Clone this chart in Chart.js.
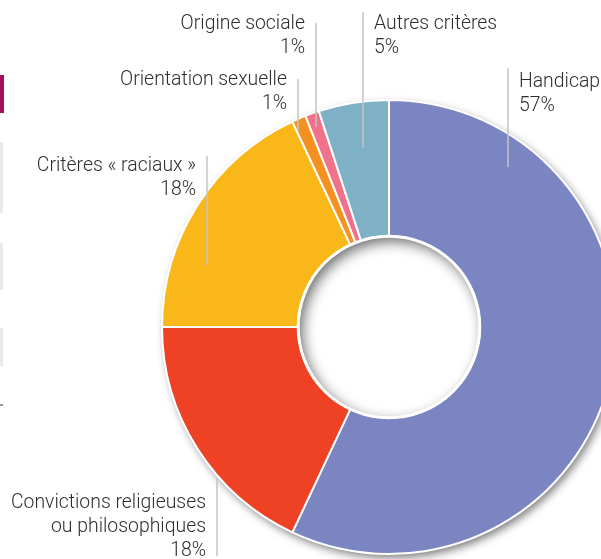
<!DOCTYPE html>
<html lang="fr">
<head>
<meta charset="UTF-8">
<title>Critères de discrimination</title>
<script src="https://cdn.jsdelivr.net/npm/chart.js"></script>
<style>
    html, body { margin: 0; padding: 0; background: #fff; overflow: hidden; }
    body { width: 601px; height: 559px; position: relative; }
    #donut { position: absolute; left: 0; top: 0; }
    .bord { position: absolute; left: 0; width: 3px; background: #ebebeb; }
</style>
</head>
<body>
<div class="bord" style="top:75px;height:38px;background:#a3105c;width:4px"></div>
<div class="bord" style="top:142px;height:71px"></div>
<div class="bord" style="top:243px;height:47px"></div>
<div class="bord" style="top:328px;height:38px"></div>
<div class="bord" style="top:404px;height:2px;background:#999"></div>
<canvas id="donut" width="800" height="559"></canvas>

<script>
    const criteres = [
        ['Handicap'],
        ['Convictions religieuses', 'ou philosophiques'],
        ['Critères « raciaux »'],
        ['Orientation sexuelle'],
        ['Origine sociale'],
        ['Autres critères']
    ];
    const parts = [57, 18, 18, 1, 1, 5];
    const couleurs = ['#7a85c1', '#ef4123', '#fab71a', '#f39221', '#f0718a', '#7fb1c6'];

    // emplacement des étiquettes : trait vertical (x, haut, bas) + côté du texte
    const etiquettes = [
        { x: 508, haut: 68, bas: 167, cote: 'left', ligne1: 87 },
        { x: 217, haut: 478, bas: 556, cote: 'right', ligne1: 508 },
        { x: 207, haut: 156, bas: 265, cote: 'right', ligne1: 171 },
        { x: 298, haut: 79, bas: 131, cote: 'right', ligne1: 85 },
        { x: 316, haut: 23, bas: 127, cote: 'right', ligne1: 29 },
        { x: 363, haut: 12, bas: 148, cote: 'left', ligne1: 29 }
    ];

    const ombres = {
        id: 'ombres',
        beforeDatasetsDraw(chart) {
            const arc = chart.getDatasetMeta(0).data[0];
            const ctx = chart.ctx;
            ctx.save();
            ctx.shadowColor = 'rgba(0,0,0,0.5)';
            ctx.shadowBlur = 9;
            ctx.shadowOffsetX = 3;
            ctx.shadowOffsetY = 4;
            ctx.fillStyle = '#fff';
            ctx.beginPath();
            ctx.arc(arc.x, arc.y, arc.outerRadius, 0, Math.PI * 2);
            ctx.fill();
            ctx.restore();
        },
        afterDatasetsDraw(chart) {
            const arc = chart.getDatasetMeta(0).data[0];
            const ctx = chart.ctx;
            const r = arc.innerRadius;
            // ombre intérieure du trou
            ctx.save();
            ctx.beginPath();
            ctx.arc(arc.x, arc.y, r, 0, Math.PI * 2);
            ctx.clip();
            ctx.shadowColor = 'rgba(0,0,0,0.6)';
            ctx.shadowBlur = 14;
            ctx.shadowOffsetX = 4;
            ctx.shadowOffsetY = 5;
            ctx.fillStyle = '#fff';
            ctx.beginPath();
            ctx.arc(arc.x, arc.y, r + 60, 0, Math.PI * 2);
            ctx.arc(arc.x, arc.y, r, 0, Math.PI * 2, true);
            ctx.fill();
            ctx.restore();
            ctx.save();
            ctx.strokeStyle = '#fff';
            ctx.lineWidth = 3;
            ctx.beginPath();
            ctx.arc(arc.x, arc.y, r, 0, Math.PI * 2);
            ctx.stroke();
            ctx.restore();
        }
    };

    const legendes = {
        id: 'legendes',
        afterDraw(chart) {
            const ctx = chart.ctx;
            ctx.save();
            etiquettes.forEach((e, i) => {
                ctx.strokeStyle = '#c4c4c4';
                ctx.lineWidth = 1.5;
                ctx.beginPath();
                ctx.moveTo(e.x, e.haut);
                ctx.lineTo(e.x, e.bas);
                ctx.stroke();

                const lignes = criteres[i].concat([parts[i] + '%']);
                ctx.font = '300 19.4px Roboto';
                ctx.fillStyle = '#2e2e2e';
                ctx.textAlign = e.cote;
                ctx.textBaseline = 'alphabetic';
                const tx = e.cote === 'left' ? e.x + 11 : e.x - 11;
                lignes.forEach((t, j) => ctx.fillText(t, tx, e.ligne1 + j * 24));
            });
            ctx.restore();
        }
    };

    new Chart(document.getElementById('donut'), {
        type: 'doughnut',
        data: {
            labels: criteres.map(c => c.join(' ')),
            datasets: [{
                data: parts,
                backgroundColor: couleurs,
                borderColor: '#fff',
                borderWidth: 2
            }]
        },
        options: {
            responsive: false,
            animation: false,
            cutout: '40%',
            layout: { padding: { left: 161, right: 183, top: 99, bottom: 4 } },
            plugins: { legend: { display: false }, tooltip: { enabled: false } }
        },
        plugins: [ombres, legendes]
    });
</script>
</body>
</html>
